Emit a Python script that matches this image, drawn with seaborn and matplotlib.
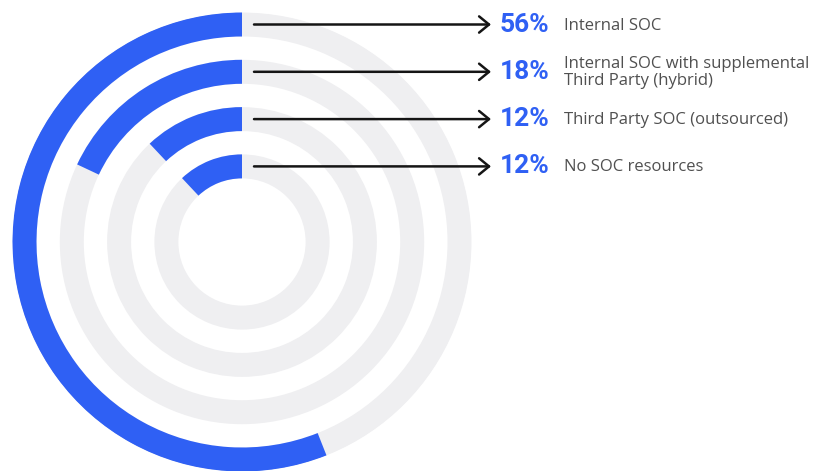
import numpy as np
import pandas as pd
import matplotlib
matplotlib.use("Agg")
import matplotlib.pyplot as plt
import seaborn as sns

# Survey shares: how organisations staff their SOC
categories = [
    "Internal SOC",
    "Internal SOC with supplemental\nThird Party (hybrid)",
    "Third Party SOC (outsourced)",
    "No SOC resources",
]
shares = [56, 18, 12, 12]
share_labels = ["56%", "18%", "12%", "12%"]

BLUE = "#2F60F4"
TRACK = "#EFEFF1"
INK = "#151515"
TEXT = "#505050"

sns.set_theme(style="white")
plt.rcParams["font.family"] = ["Open Sans", "DejaVu Sans"]

W, H = 826, 471
fig = plt.figure(figsize=(W / 100, H / 100), dpi=100)
fig.patch.set_facecolor("white")

# ring geometry in pixels
cx, cy = 242, 242
r_max = 230
ring_step = 47.3
ring_width = 24
radii = [r_max - 12.5 - i * ring_step for i in range(len(categories))]

ax = fig.add_axes([(cx - r_max) / W, (H - cy - r_max) / H, 2 * r_max / W, 2 * r_max / H],
                  projection="polar")
ax.set_theta_zero_location("N")
ax.set_theta_direction(1)

df = pd.DataFrame({
    "category": categories,
    "radius": radii,
    "full": [2 * np.pi] * len(categories),
    "angle": np.array(shares) / 100 * 2 * np.pi,
})

rel_width = ring_width / ring_step
# grey tracks, then the share arcs on top
sns.barplot(data=df, x="full", y="radius", orient="h", native_scale=True,
            width=rel_width, color=TRACK, saturation=1, errorbar=None,
            linewidth=0, ax=ax)
sns.barplot(data=df, x="angle", y="radius", orient="h", native_scale=True,
            width=rel_width, color=BLUE, saturation=1, errorbar=None,
            linewidth=0, ax=ax)
ax.set_ylim(0, r_max)
ax.set_xlabel("")
ax.set_ylabel("")
ax.axis("off")

# overlay in pixel coordinates for arrows and labels
ov = fig.add_axes([0, 0, 1, 1])
ov.set_xlim(0, W)
ov.set_ylim(H, 0)
ov.axis("off")
ov.patch.set_alpha(0)

for r, lab, pct in zip(radii, categories, share_labels):
    y = cy - r
    ov.annotate("", xy=(491, y), xytext=(254, y),
                arrowprops=dict(arrowstyle="->,head_length=0.55,head_width=0.45",
                                lw=1.8, color=INK, shrinkA=0, shrinkB=0,
                                mutation_scale=13))
    ov.text(500, y, pct, fontsize=19, fontweight="bold", color=BLUE,
            family=["Roboto", "DejaVu Sans"], va="center", ha="left")
    ov.text(564, y + 1, lab, fontsize=12, color=TEXT, va="center", ha="left",
            linespacing=1.05)

fig.savefig("out.png", dpi=100, facecolor="white")
